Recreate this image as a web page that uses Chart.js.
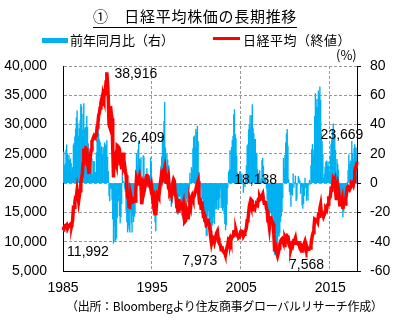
<!DOCTYPE html>
<html lang="ja">
<head>
<meta charset="UTF-8">
<title>日経平均株価の長期推移</title>
<script src="https://cdn.jsdelivr.net/npm/chart.js"></script>
<style>
  body { margin: 0; background: #fff; }
  #wrap { position: relative; width: 397px; height: 321px; font-family: "Noto Sans CJK JP", sans-serif; color: #000; }
  #wrap canvas { position: absolute; left: 0; top: 0; }
  .txt { position: absolute; white-space: nowrap; line-height: 1; }
  #title { left: 0; width: 390px; top: 8px; text-align: center; font-size: 15px; letter-spacing: 0.7px; }
  #title span { border-bottom: 1px solid #000; padding-bottom: 1px; }
  .box { position: absolute; }
</style>
</head>
<body>
<div id="wrap">
  <canvas id="myChart" width="397" height="321"></canvas>
  <div id="title" class="txt"><span>①　日経平均株価の長期推移</span></div>
  <div class="box" style="left:42px;top:38px;width:26px;height:5px;background:#00b0f0"></div>
  <div class="txt" style="left:70px;top:33px;font-size:13px">前年同月比（右）</div>
  <div class="box" style="left:213px;top:37px;width:27px;height:3px;background:#ff0000"></div>
  <div class="txt" style="left:243px;top:33px;font-size:13px;letter-spacing:0.5px">日経平均（終値）</div>
  <div class="txt" style="left:336px;top:48px;font-size:13px">(%)</div>
  <div class="txt" style="left:66px;top:300px;font-size:12px;letter-spacing:-0.3px">（出所：Bloombergより住友商事グローバルリサーチ作成）</div>
</div>
<script>
  // monthly, Jan 1985 - Jan 2018
  const firstYear = 1985;
  const xTickLabels = ['1985', '1995', '2005', '2015'];

  // 日経平均 month-end close (yen)
  const nikkeiClose = [
    11992, 12322, 12580, 12426, 12758, 12882, 12290, 12606, 12700, 12799, 13012, 13113, // 1985
    13024, 13641, 15859, 15826, 16807, 17654, 17768, 18820, 17853, 16911, 17852, 18701, // 1986
    20049, 20766, 21567, 23275, 25929, 24176, 24489, 26029, 26011, 23329, 22687, 21564, // 1987
    23622, 24702, 25690, 27155, 27418, 27769, 28095, 27924, 27924, 28182, 29579, 30159, // 1988
    31581, 31986, 32839, 33713, 34267, 33183, 34954, 34431, 35637, 35549, 37269, 38916, // 1989
    37189, 34592, 29980, 29585, 33131, 31940, 31036, 25978, 20984, 25194, 22455, 23849, // 1990
    23293, 26409, 26292, 26111, 25790, 23291, 23900, 22335, 23916, 25222, 22687, 22984, // 1991
    22023, 21339, 19346, 17391, 18348, 15952, 15910, 18061, 17399, 16767, 17684, 16925, // 1992
    17024, 16953, 18591, 20919, 20552, 19590, 20380, 21027, 20106, 19703, 16408, 17417, // 1993
    20229, 19997, 19112, 19725, 20974, 21552, 20449, 20629, 19564, 19990, 19263, 19723, // 1994
    18650, 17053, 16140, 16807, 15437, 14517, 16678, 18117, 17913, 17655, 18744, 19868, // 1995
    20813, 20125, 21407, 22041, 21956, 22531, 20693, 20167, 21556, 20467, 21020, 19361, // 1996
    18330, 18557, 18003, 19151, 20069, 20605, 20331, 18229, 17888, 16459, 16636, 15259, // 1997
    16628, 16832, 16527, 15641, 15671, 15831, 16379, 14108, 13406, 13564, 14884, 13842, // 1998
    14499, 14368, 15837, 16701, 16112, 17530, 17862, 17437, 17605, 17942, 18558, 18934, // 1999
    19540, 19959, 20337, 17974, 16332, 17411, 15727, 16861, 15747, 14539, 14649, 13786, // 2000
    13843, 12883, 12999, 13934, 13262, 12969, 11860, 10713, 9775, 10366, 10697, 10543,  // 2001
    9997, 10588, 11025, 11493, 11764, 10622, 9878, 9619, 9383, 8640, 9216, 8579,         // 2002
    8340, 8363, 7973, 7831, 8425, 9083, 9563, 10344, 10219, 10560, 10101, 10677,         // 2003
    10783, 11042, 11715, 11762, 11236, 11858, 11326, 11082, 10824, 10771, 10899, 11489,  // 2004
    11388, 11741, 11669, 11009, 11277, 11584, 11900, 12414, 13574, 13607, 14872, 16111,  // 2005
    16650, 16205, 17059, 16906, 15467, 15505, 15457, 16141, 16128, 16399, 16274, 17226,  // 2006
    17383, 17604, 17288, 17400, 17876, 18138, 17249, 16569, 16786, 16738, 15681, 15308,  // 2007
    13592, 13603, 12526, 13850, 14339, 13481, 13377, 13073, 11260, 8577, 8512, 8860,     // 2008
    7994, 7568, 8110, 8828, 9523, 9958, 10357, 10493, 10133, 10035, 9346, 10546,         // 2009
    10198, 10126, 11090, 11057, 9769, 9383, 9537, 8824, 9369, 9202, 9937, 10229,         // 2010
    10238, 10624, 9755, 9850, 9694, 9816, 9833, 8955, 8700, 8988, 8435, 8455,            // 2011
    8803, 9723, 10084, 9521, 8543, 9007, 8695, 8840, 8870, 8928, 9446, 10395,            // 2012
    11139, 11559, 12398, 13861, 13775, 13677, 13668, 13389, 14456, 14328, 15662, 16291,  // 2013
    14915, 14841, 14828, 14304, 14632, 15162, 15621, 15425, 16174, 16414, 17460, 17451,  // 2014
    17674, 18798, 19207, 19520, 20563, 20236, 20585, 18890, 17388, 19083, 19747, 19034,  // 2015
    17518, 16027, 16759, 16666, 17235, 15576, 16569, 16887, 16450, 17425, 18308, 19114,  // 2016
    19041, 19119, 18909, 19197, 19651, 20033, 19925, 19646, 20356, 22012, 22725, 22765,  // 2017
    23669                                                                                // 2018
  ];

  // 前年同月比 (%)
  const yoyPct = [
    17.6, 21.3, 11.7, 13.1, 22.5, 26.2, 20.1, 16.2, 19.1, 15.5, 16.7, 13.6,        // 1985
    8.6, 10.7, 26.1, 27.4, 31.7, 37.0, 44.6, 49.3, 40.6, 32.1, 37.2, 42.6,         // 1986
    53.9, 52.2, 36.0, 47.1, 54.3, 36.9, 37.8, 38.3, 45.7, 38.0, 27.1, 15.3,        // 1987
    17.8, 19.0, 19.1, 16.7, 5.7, 14.9, 14.7, 7.3, 7.4, 20.8, 30.4, 39.9,           // 1988
    33.7, 29.5, 27.8, 24.2, 25.0, 19.5, 24.4, 23.3, 27.6, 26.1, 26.0, 29.0,        // 1989
    17.8, 8.1, -8.7, -12.2, -3.3, -3.7, -11.2, -24.6, -41.1, -29.1, -39.7, -38.7,  // 1990
    -37.4, -23.7, -12.3, -11.7, -22.2, -27.1, -23.0, -14.0, 14.0, 0.1, 1.0, -3.6,  // 1991
    -5.5, -19.2, -26.4, -33.4, -28.9, -31.5, -33.4, -19.1, -27.2, -33.5, -22.1, -26.4, // 1992
    -22.7, -20.6, -3.9, 20.3, 12.0, 22.8, 28.1, 16.4, 15.6, 17.5, -7.2, 2.9,       // 1993
    18.8, 18.0, 2.8, -5.7, 2.1, 10.0, 0.3, -1.9, -2.7, 1.5, 17.4, 13.2,            // 1994
    -7.8, -14.7, -15.6, -14.8, -26.4, -32.6, -18.4, -12.2, -8.4, -11.7, -2.7, 0.7, // 1995
    11.6, 18.0, 32.6, 31.1, 42.2, 55.2, 24.1, 11.3, 20.3, 15.9, 12.1, -2.6,        // 1996
    -11.9, -7.8, -15.9, -13.1, -8.6, -8.5, -1.7, -9.6, -17.0, -19.6, -20.9, -21.2, // 1997
    -9.3, -9.3, -8.2, -18.3, -21.9, -23.2, -19.4, -22.6, -25.1, -17.6, -10.5, -9.3, // 1998
    -12.8, -14.6, -4.2, 6.8, 2.8, 10.7, 9.1, 23.6, 31.3, 32.3, 24.7, 36.8,         // 1999
    34.8, 38.9, 28.4, 7.6, 1.4, -0.7, -12.0, -3.3, -10.6, -19.0, -21.1, -27.2,     // 2000
    -29.2, -35.5, -36.1, -22.5, -18.8, -25.5, -24.6, -36.5, -37.9, -28.7, -27.0, -23.5, // 2001
    -27.8, -17.8, -15.2, -17.5, -11.3, -18.1, -16.7, -10.2, -4.0, -16.7, -13.8, -18.6, // 2002
    -16.6, -21.0, -27.7, -31.9, -28.4, -14.5, -3.2, 7.5, 8.9, 22.2, 9.6, 24.5,     // 2003
    29.3, 32.0, 46.9, 50.2, 33.4, 30.6, 18.4, 7.1, 5.9, 2.0, 7.9, 7.6,             // 2004
    5.6, 6.3, -0.4, -6.4, 0.4, -2.3, 5.1, 12.0, 25.4, 26.3, 36.5, 40.2,            // 2005
    46.2, 38.0, 46.2, 53.6, 37.2, 33.8, 29.9, 30.0, 18.8, 20.5, 9.4, 6.9,          // 2006
    4.4, 8.6, 1.3, 2.9, 15.6, 17.0, 11.6, 2.7, 4.1, 2.1, -3.6, -11.1,              // 2007
    -21.8, -22.7, -27.5, -20.4, -19.8, -25.7, -22.4, -21.1, -32.9, -48.8, -45.7, -42.1, // 2008
    -41.2, -44.4, -35.3, -36.3, -33.6, -26.1, -22.6, -19.7, -10.0, 17.0, 9.8, 19.0, // 2009
    27.6, 33.8, 36.7, 25.2, 2.6, -5.8, -7.9, -15.9, -7.5, -8.3, 6.3, -3.0,         // 2010
    0.4, 4.9, -12.0, -10.9, -0.8, 4.6, 3.1, 1.5, -7.1, -2.3, -15.1, -17.3,         // 2011
    -14.0, -8.5, 3.4, -3.3, -11.9, -8.2, -11.6, -1.3, 2.0, -0.7, 12.0, 22.9,       // 2012
    26.5, 18.9, 22.9, 45.6, 61.2, 51.8, 57.2, 51.5, 63.0, 60.5, 65.8, 56.7,        // 2013
    33.9, 28.4, 19.6, 3.2, 6.2, 10.9, 14.3, 15.2, 11.9, 14.6, 11.5, 7.1,           // 2014
    18.5, 26.7, 29.5, 36.5, 40.5, 33.5, 31.8, 22.5, 7.5, 16.3, 13.1, 9.1,          // 2015
    -0.9, -14.7, -12.7, -14.6, -16.2, -23.0, -19.5, -10.6, -5.4, -8.7, -7.3, 0.4,  // 2016
    8.7, 19.3, 12.8, 15.2, 14.0, 28.6, 20.3, 16.3, 23.7, 26.3, 24.1, 19.1,         // 2017
    24.3                                                                           // 2018
  ];

  // points that get a value label (index into nikkeiClose)
  const labelIndex = [59, 73, 0, 218, 269, 289, 396];
  const labelOffset = [[29, 2], [26, -7], [25, 22], [-25, 8], [-7, -14], [29, 9], [-15, -27]];

  const months = nikkeiClose.map((v, i) => (firstYear + Math.floor(i / 12)) + '-' + String(i % 12 + 1).padStart(2, '0'));

  function isYearTick(i) {
    return i % 12 === 0 && xTickLabels.includes(String(firstYear + i / 12));
  }

  const valueLabels = {
    id: 'valueLabels',
    afterDatasetsDraw(chart) {
      const ctx = chart.ctx;
      const xs = chart.scales.x, ys = chart.scales.y;
      ctx.save();
      ctx.font = '14px "Liberation Sans", Arial, sans-serif';
      ctx.fillStyle = '#000';
      ctx.textAlign = 'center';
      ctx.textBaseline = 'middle';
      labelIndex.forEach((idx, k) => {
        const x = xs.getPixelForValue(idx) + labelOffset[k][0];
        const y = ys.getPixelForValue(nikkeiClose[idx]) + labelOffset[k][1];
        ctx.fillText(nikkeiClose[idx].toLocaleString('en-US'), x, y);
      });
      ctx.restore();
    }
  };

  const tickFont = { family: '"Liberation Sans", Arial, sans-serif', size: 14 };

  new Chart(document.getElementById('myChart'), {
    data: {
      labels: months,
      datasets: [
        {
          type: 'line',
          label: '日経平均（終値）',
          data: nikkeiClose,
          yAxisID: 'y',
          borderColor: '#ff0000',
          borderWidth: 3.5,
          pointRadius: 0,
          tension: 0,
          order: 0
        },
        {
          type: 'bar',
          label: '前年同月比（右）',
          data: yoyPct,
          yAxisID: 'y2',
          backgroundColor: '#00b0f0',
          borderWidth: 0,
          barPercentage: 1,
          categoryPercentage: 1,
          order: 1
        }
      ]
    },
    options: {
      responsive: false,
      animation: false,
      layout: { padding: { top: 66 } },
      plugins: { legend: { display: false }, tooltip: { enabled: false } },
      scales: {
        x: {
          offset: false,
          afterFit: s => { s.height = 50; },
          grid: {
            drawTicks: false,
            color: c => (c.tick && isYearTick(c.index) && c.index > 0) ? '#999999' : 'rgba(0,0,0,0)'
          },
          border: { color: '#000', width: 1, dash: [3, 2] },
          ticks: {
            autoSkip: false,
            maxRotation: 0,
            padding: 9,
            color: '#000',
            font: tickFont,
            callback: (v, i) => isYearTick(i) ? String(firstYear + i / 12) : ''
          }
        },
        y: {
          position: 'left',
          min: 5000,
          max: 40000,
          afterFit: s => { s.width = 63; },
          grid: { drawTicks: false, color: '#999999' },
          border: { color: '#000', width: 1, dash: [3, 2] },
          ticks: {
            stepSize: 5000,
            padding: 16,
            color: '#000',
            font: tickFont,
            callback: v => v.toLocaleString('en-US')
          }
        },
        y2: {
          position: 'right',
          min: -60,
          max: 80,
          afterFit: s => { s.width = 40; },
          grid: { drawOnChartArea: false, drawTicks: true, tickLength: 4, color: '#000' },
          border: { color: '#000', width: 1 },
          ticks: { stepSize: 20, padding: 9, color: '#000', font: tickFont }
        }
      }
    },
    plugins: [valueLabels]
  });
</script>
</body>
</html>
